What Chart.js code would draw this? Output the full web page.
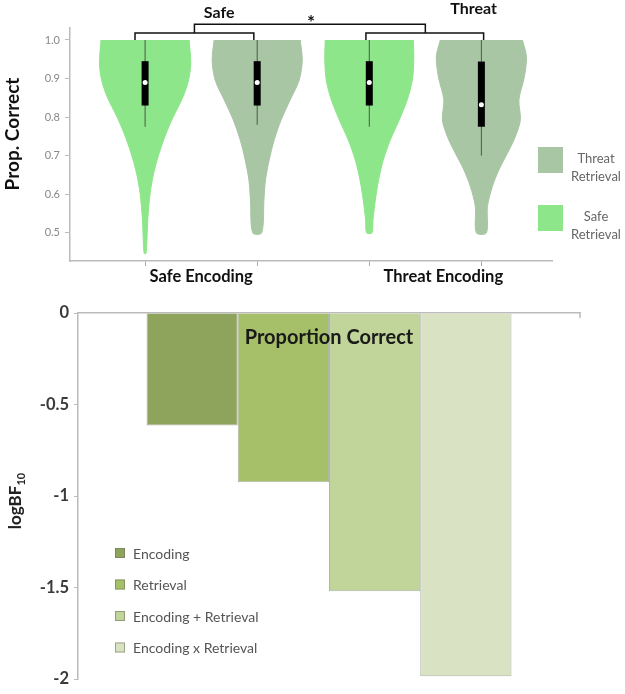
<!DOCTYPE html>
<html>
<head>
<meta charset="utf-8">
<script src="https://cdn.jsdelivr.net/npm/chart.js@4.4.1/dist/chart.umd.min.js"></script>
<style>
  body { margin: 0; background: #fff; }
  canvas { display: block; }
</style>
</head>
<body>
<canvas id="violins" width="625" height="292"></canvas>
<canvas id="bayes" width="625" height="402"></canvas>
<script>
// ---- top panel: violins ----
const slots = [1, 2, 3, 4];
const encodingGroups = ['Safe Encoding', 'Threat Encoding'];
const retrievalGroups = ['Safe', 'Threat'];
const violinRetrieval = ['Safe', 'Threat', 'Safe', 'Threat'];
const propTicks = [0.5, 0.6, 0.7, 0.8, 0.9, 1.0];

// density outline: levels (prop. correct) and half widths (in slot units)
const violinLevels = [
    [1.0, 0.94, 0.896, 0.853, 0.80, 0.758, 0.706, 0.655, 0.603, 0.534, 0.447],
    [1.0, 0.948, 0.896, 0.845, 0.793, 0.741, 0.689, 0.637, 0.585, 0.5],
    [1.0, 0.948, 0.896, 0.845, 0.793, 0.741, 0.689, 0.637, 0.585, 0.534, 0.5],
    [1.0, 0.957, 0.905, 0.845, 0.793, 0.75, 0.706, 0.663, 0.62, 0.568, 0.5]
];
const violinHalfWidths = [
    [0.393, 0.407, 0.388, 0.339, 0.25, 0.188, 0.125, 0.077, 0.045, 0.024, 0.009],
    [0.384, 0.402, 0.375, 0.295, 0.214, 0.152, 0.107, 0.074, 0.06, 0.04],
    [0.393, 0.397, 0.384, 0.339, 0.268, 0.188, 0.125, 0.083, 0.054, 0.033, 0.024],
    [0.366, 0.402, 0.384, 0.335, 0.348, 0.304, 0.232, 0.156, 0.098, 0.054, 0.045]
];
const boxQ1 = [0.83, 0.83, 0.83, 0.775];
const boxQ3 = [0.945, 0.945, 0.945, 0.944];
const medians = [0.89, 0.89, 0.89, 0.832];
const whiskerLow = [0.775, 0.78, 0.775, 0.70];
const whiskerHigh = [1.0, 1.0, 1.0, 1.0];

// ---- bottom panel: Bayes factors ----
const panelTitle = 'Proportion Correct';
const terms = ['Encoding', 'Retrieval', 'Encoding + Retrieval', 'Encoding x Retrieval'];
const logBF = [-0.615, -0.925, -1.52, -1.985];
const bfTicks = [0, -0.5, -1, -1.5, -2];

const FONT = 'Lato, "Open Sans", sans-serif';
const retrievalColors = { Safe: '#8de68a', Threat: '#a8c5a4' };
const barColors = ['#8ea35b', '#a6c06a', '#c1d499', '#d9e3c3'];

function violinOutline(i) {
    const right = violinLevels[i].map((y, k) => ({ x: slots[i] + violinHalfWidths[i][k], y }));
    const left = violinLevels[i].map((y, k) => ({ x: slots[i] - violinHalfWidths[i][k], y })).reverse();
    return right.concat(left);
}

const violinSets = slots.map((s, i) => ({
    data: violinOutline(i),
    showLine: true,
    fill: 'shape',
    tension: 0.3,
    backgroundColor: retrievalColors[violinRetrieval[i]],
    borderColor: retrievalColors[violinRetrieval[i]],
    borderWidth: 1,
    pointRadius: 0,
    order: 3
}));
const whiskerSets = slots.map((s, i) => ({
    data: [{ x: s, y: whiskerLow[i] }, { x: s, y: whiskerHigh[i] }],
    showLine: true,
    borderColor: '#4a5a48',
    borderWidth: 1,
    pointRadius: 0,
    order: 2
}));
const boxSets = slots.map((s, i) => ({
    data: [{ x: s, y: boxQ1[i] }, { x: s, y: boxQ3[i] }],
    showLine: true,
    borderColor: '#000',
    borderWidth: 7,
    borderCapStyle: 'butt',
    pointRadius: 0,
    order: 1
}));
const medianSet = {
    data: slots.map((s, i) => ({ x: s, y: medians[i] })),
    pointRadius: 2.5,
    pointBackgroundColor: '#fff',
    pointBorderWidth: 0,
    order: 0
};

const violinDecor = {
    id: 'violinDecor',
    afterDraw(chart) {
        const { ctx, scales: { x, y } } = chart;
        ctx.save();
        // significance brackets
        ctx.strokeStyle = '#111';
        ctx.lineWidth = 1.5;
        const yIn = y.getPixelForValue(1.018), yBase = y.getPixelForValue(1.0);
        const yTop = y.getPixelForValue(1.041);
        const bracket = (a, b, yy, drop) => {
            const xa = x.getPixelForValue(a), xb = x.getPixelForValue(b);
            ctx.beginPath();
            ctx.moveTo(xa, drop); ctx.lineTo(xa, yy); ctx.lineTo(xb, yy); ctx.lineTo(xb, drop);
            ctx.stroke();
        };
        bracket(0.91, 1.97, yIn, yBase);
        bracket(2.97, 4.02, yIn, yBase);
        bracket(1.44, 3.5, yTop, yIn);

        ctx.fillStyle = '#111';
        ctx.textAlign = 'center';
        ctx.textBaseline = 'middle';
        ctx.font = 'bold 16px ' + FONT;
        ctx.fillText(retrievalGroups[0], x.getPixelForValue(1.66), 13);
        ctx.fillText(retrievalGroups[1], x.getPixelForValue(3.93), 9);
        ctx.font = 'bold 19px ' + FONT;
        ctx.fillText('*', x.getPixelForValue(2.48), 23);

        // encoding labels
        ctx.font = 'bold 16.5px ' + FONT;
        ctx.fillText(encodingGroups[0], x.getPixelForValue(1.5), 277);
        ctx.fillText(encodingGroups[1], x.getPixelForValue(3.66), 277);

        // y title
        ctx.save();
        ctx.translate(13, 134);
        ctx.rotate(-Math.PI / 2);
        ctx.font = 'bold 19px ' + FONT;
        ctx.fillText('Prop. Correct', 0, 0);
        ctx.restore();

        // legend
        const lx = chart.chartArea.right - 14;
        ['Threat', 'Safe'].forEach((r, k) => {
            const top = 147 + k * 58;
            ctx.fillStyle = retrievalColors[r];
            ctx.fillRect(lx, top, 25, 26);
            ctx.fillStyle = '#666';
            ctx.font = '13px ' + FONT;
            ctx.fillText(r, lx + 58, top + 12);
            ctx.fillText('Retrieval', lx + 58, top + 30);
        });
        ctx.restore();
    }
};

new Chart(document.getElementById('violins'), {
    type: 'scatter',
    data: { datasets: [...violinSets, ...whiskerSets, ...boxSets, medianSet] },
    options: {
        responsive: false,
        animation: false,
        layout: { padding: { left: 0, right: 73, top: 28, bottom: 0 } },
        plugins: { legend: { display: false }, tooltip: { enabled: false } },
        scales: {
            x: {
                type: 'linear',
                min: 0.33,
                max: 4.63,
                afterBuildTicks: s => { s.ticks = slots.map(v => ({ value: v })); },
                ticks: { callback: () => '' },
                grid: { drawOnChartArea: false, tickLength: 5, color: '#aaa' },
                border: { color: '#bbb', width: 1.5 },
                afterFit: s => { s.height = 31; }
            },
            y: {
                min: 0.427,
                max: 1.031,
                afterBuildTicks: s => { s.ticks = propTicks.map(v => ({ value: v })); },
                ticks: {
                    callback: v => v.toFixed(1),
                    color: '#888',
                    font: { size: 11, family: FONT },
                    padding: 5
                },
                grid: { drawOnChartArea: false, tickLength: 5, color: '#bbb' },
                border: { color: '#bbb', width: 1.5 },
                afterFit: s => { s.width = 70; }
            }
        }
    },
    plugins: [violinDecor]
});

// ---- bottom chart ----
const bayesDecor = {
    id: 'bayesDecor',
    afterDraw(chart) {
        const { ctx, chartArea } = chart;
        ctx.save();
        // small tick at right end of the zero line
        ctx.strokeStyle = '#bbb';
        ctx.lineWidth = 1.5;
        ctx.beginPath();
        ctx.moveTo(chartArea.right, chartArea.top);
        ctx.lineTo(chartArea.right, chartArea.top + 5);
        ctx.stroke();

        ctx.fillStyle = '#1a1a1a';
        ctx.textAlign = 'center';
        ctx.textBaseline = 'middle';
        ctx.font = 'bold 20px ' + FONT;
        ctx.fillText(panelTitle, 329, chartArea.top + 25);

        // legend
        ctx.textAlign = 'left';
        ctx.font = '14px ' + FONT;
        chart.data.datasets.forEach((ds, k) => {
            const cy = 261 + k * 31.5;
            ctx.fillStyle = ds.backgroundColor;
            ctx.fillRect(115, cy - 5, 10, 10);
            ctx.strokeStyle = 'rgba(110,120,95,0.6)';
            ctx.lineWidth = 1;
            ctx.strokeRect(115.5, cy - 4.5, 9, 9);
            ctx.fillStyle = '#555';
            ctx.fillText(ds.label, 133, cy + 1);
        });

        // y title with subscript
        ctx.save();
        ctx.translate(16, 209);
        ctx.rotate(-Math.PI / 2);
        ctx.fillStyle = '#222';
        ctx.font = 'bold 17px ' + FONT;
        const w1 = ctx.measureText('logBF').width;
        ctx.font = 'bold 11px ' + FONT;
        const w2 = ctx.measureText('10').width;
        const start = -(w1 + w2) / 2;
        ctx.font = 'bold 17px ' + FONT;
        ctx.fillText('logBF', start, 0);
        ctx.font = 'bold 11px ' + FONT;
        ctx.fillText('10', start + w1, 5);
        ctx.restore();
        ctx.restore();
    }
};

new Chart(document.getElementById('bayes'), {
    type: 'bar',
    data: {
        labels: [panelTitle],
        datasets: terms.map((t, i) => ({
            label: t,
            data: [logBF[i]],
            backgroundColor: barColors[i],
            borderColor: 'rgba(110,120,95,0.55)',
            borderWidth: 1,
            categoryPercentage: 0.727,
            barPercentage: 1
        }))
    },
    options: {
        responsive: false,
        animation: false,
        layout: { padding: { left: 0, right: 45, top: 21, bottom: 11 } },
        plugins: { legend: { display: false }, tooltip: { enabled: false } },
        scales: {
            x: {
                position: 'top',
                ticks: { display: false },
                grid: { display: false },
                border: { color: '#bbb', width: 1.5 },
                afterFit: s => { s.height = 0; }
            },
            y: {
                min: -2,
                max: 0,
                afterBuildTicks: s => { s.ticks = bfTicks.map(v => ({ value: v })); },
                ticks: {
                    callback: v => String(v),
                    color: '#3a3a3a',
                    font: { size: 16.5, weight: 'bold', family: FONT },
                    padding: 5
                },
                grid: { drawOnChartArea: false, tickLength: 4, color: '#bbb' },
                border: { color: '#bbb', width: 1.5 },
                afterFit: s => { s.width = 78; }
            }
        }
    },
    plugins: [bayesDecor]
});
</script>
</body>
</html>
